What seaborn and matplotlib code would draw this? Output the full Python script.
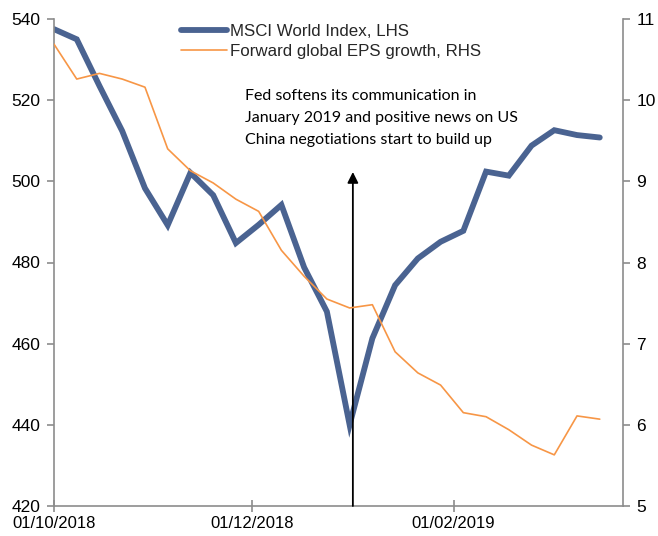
import matplotlib
matplotlib.use("Agg")
import matplotlib.pyplot as plt
import matplotlib.dates as mdates
import seaborn as sns
import pandas as pd

# ---- data ----
dates = ["2018-10-01", "2018-10-08", "2018-10-15", "2018-10-22", "2018-10-29",
         "2018-11-05", "2018-11-12", "2018-11-19", "2018-11-26",
         "2018-12-03", "2018-12-10", "2018-12-17", "2018-12-24", "2018-12-31",
         "2019-01-07", "2019-01-14", "2019-01-21", "2019-01-28",
         "2019-02-04", "2019-02-11", "2019-02-18", "2019-02-25",
         "2019-03-04", "2019-03-11", "2019-03-18"]
msci = [537.5, 535.0, 523.5, 512.4, 498.3, 489.2, 502.1, 496.6, 484.8,
        489.3, 494.2, 478.8, 467.9, 440.0, 461.3, 474.4, 481.0, 485.1,
        487.8, 502.4, 501.4, 508.8, 512.6, 511.4, 510.8]
eps = [10.69, 10.26, 10.33, 10.26, 10.16, 9.40, 9.13, 8.98, 8.78,
       8.63, 8.15, 7.83, 7.55, 7.44, 7.48, 6.90, 6.64, 6.49,
       6.15, 6.10, 5.94, 5.75, 5.63, 6.11, 6.07]
series_labels = ["MSCI World Index, LHS", "Forward global EPS growth, RHS"]
xtick_dates = ["2018-10-01", "2018-12-01", "2019-02-01"]
left_ticks = [420, 440, 460, 480, 500, 520, 540]
right_ticks = [5, 6, 7, 8, 9, 10, 11]
arrow_date = "2019-01-01"
annotation = ("Fed softens its communication in\n"
              "January 2019 and positive news on US\n"
              "China negotiations start to build up")

df = pd.DataFrame({"date": pd.to_datetime(dates), "msci": msci, "eps": eps})

sns.set_theme(style="white")
plt.rcParams["font.family"] = ["Liberation Sans", "DejaVu Sans"]

BLUE = "#4A6391"
ORANGE = "#F79646"
GRAY = "#8C8C8C"

fig = plt.figure(figsize=(6.58, 5.36), dpi=100)
ax = fig.add_axes([54 / 658, 1 - 506 / 536, (622.5 - 54) / 658, (506 - 19) / 536])
ax2 = ax.twinx()

sns.lineplot(data=df, x="date", y="msci", ax=ax, color=BLUE, linewidth=4.2,
             label=series_labels[0], legend=False)
sns.lineplot(data=df, x="date", y="eps", ax=ax2, color=ORANGE, linewidth=1.2,
             label=series_labels[1], legend=False)
for l in ax.lines:
    l.set_solid_capstyle("round")
    l.set_solid_joinstyle("miter")

ax.set_ylim(420, 540)
ax2.set_ylim(5, 11)
ax.set_xlim(pd.Timestamp("2018-10-01"), pd.Timestamp("2019-03-25"))
ax.set_yticks(left_ticks)
ax2.set_yticks(right_ticks)
ax.set_xticks(pd.to_datetime(xtick_dates))
ax.xaxis.set_major_formatter(mdates.DateFormatter("%d/%m/%Y"))
ax.set_xlabel("")
ax.set_ylabel("")
ax2.set_ylabel("")

for a in (ax, ax2):
    for s in a.spines.values():
        s.set_color(GRAY)
        s.set_linewidth(1.2)
    a.spines["top"].set_visible(False)
    a.grid(False)
ax.spines["right"].set_visible(False)
ax2.spines["left"].set_visible(False)
ax2.spines["bottom"].set_visible(False)

ax.tick_params(axis="y", left=True, direction="out", length=5, width=1.2,
               color=GRAY, labelsize=12.5, pad=5, labelcolor="black")
ax.tick_params(axis="x", bottom=True, direction="inout", length=9, width=1.2,
               color=GRAY, labelsize=12, pad=3, labelcolor="black")
ax2.tick_params(axis="y", right=True, direction="out", length=5, width=1.2,
                color=GRAY, labelsize=12.5, pad=5, labelcolor="black")

# arrow
ax.annotate("", xy=(pd.Timestamp(arrow_date), 502.3),
            xytext=(pd.Timestamp(arrow_date), 420),
            arrowprops=dict(arrowstyle="-|>", color="black", lw=1.3,
                            mutation_scale=16, shrinkA=0, shrinkB=0),
            zorder=10, annotation_clip=False)

fig.text(245 / 658, 1 - 89 / 536, annotation, ha="left", va="top",
         fontsize=11.5, family=["Lato", "DejaVu Sans"], linespacing=1.72,
         color="black")

h1 = ax.lines[0]
h2 = ax2.lines[0]
leg = fig.legend([h1, h2], series_labels, loc="upper left",
                 bbox_to_anchor=(181 / 658, 1 - 24 / 536), frameon=False,
                 fontsize=12.2, handlelength=2.7, handletextpad=0.2,
                 labelspacing=0.3, borderpad=0, borderaxespad=0)

fig.savefig("out.png", dpi=100)
